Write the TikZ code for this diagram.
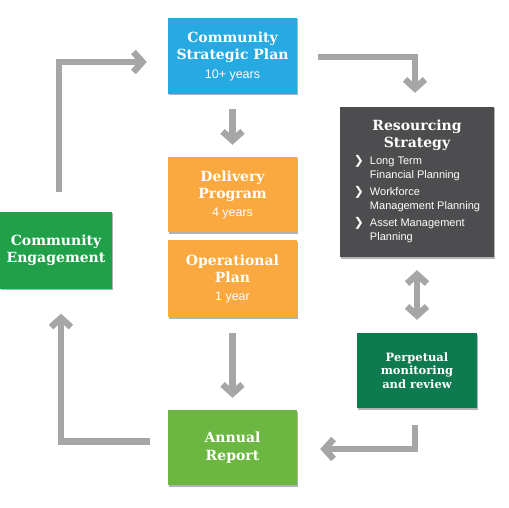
\documentclass[tikz,border=0pt]{standalone}
\usepackage{fontspec}
\setmainfont{Liberation Sans}
\newfontfamily\slabfont{DejaVu Serif}
\newfontfamily\simbolo{DejaVu Sans}
\usepackage{tikz}
\usetikzlibrary{shapes,arrows.meta,shadows,positioning}

\definecolor{blu}{HTML}{27A9E1}
\definecolor{ardesia}{HTML}{4D4D4F}
\definecolor{arancio}{HTML}{F9A93F}
\definecolor{verde}{HTML}{21A04A}
\definecolor{verdescuro}{HTML}{0E7A4F}
\definecolor{verdechiaro}{HTML}{6CB741}
\definecolor{grigio}{HTML}{A6A6A6}

\tikzstyle{blocco} = [rectangle, text=white, align=center, inner sep=0pt,
    minimum width=129pt, minimum height=76pt,
    font=\slabfont\bfseries\fontsize{14}{17.5}\selectfont,
    drop shadow={shadow xshift=1.2pt, shadow yshift=-1.5pt, opacity=0.3, fill=black}]
\tikzstyle{freccia} = [draw=grigio, line width=6.5pt,
    -{Straight Barb[length=9pt,width=20pt]}]
\newcommand{\anni}[1]{{\normalfont\fontsize{12.5}{14}\selectfont #1}}
\newcommand{\punto}{{\simbolo\bfseries\fontsize{12}{12}\selectfont ❯}}

\begin{document}
\begin{tikzpicture}[x=1pt, y=-1pt]
  \useasboundingbox (0,0) rectangle (509,508);

  \node [blocco, fill=blu] (strategico) at (232.5,56)
    {Community\\Strategic Plan\\[1pt]\anni{10+ years}};
  \node [blocco, fill=ardesia, minimum width=154pt, minimum height=150pt]
    (risorse) at (417,182)
    {Resourcing\\Strategy\\[3pt]
     {\normalfont\fontsize{11}{14}\selectfont
      \begin{tabular}{@{}l@{\hspace{6pt}}l@{}}
        \punto & Long Term\\
               & Financial Planning\\[3pt]
        \punto & Workforce\\
               & Management Planning\\[3pt]
        \punto & Asset Management\\
               & Planning
      \end{tabular}}};
  \node [blocco, fill=arancio, minimum height=75pt] (consegna) at (232.5,194.5)
    {Delivery\\Program\\[0pt]\anni{4 years}};
  \node [blocco, fill=arancio, minimum height=77pt, below=8pt of consegna] (operativo)
    {Operational\\Plan\\[0pt]\anni{1 year}};
  \node [blocco, fill=verde, minimum width=112pt, minimum height=77pt] (impegno) at (56,250)
    {Community\\Engagement};
  \node [blocco, fill=verdescuro, minimum width=120pt, minimum height=75pt,
    font=\slabfont\bfseries\fontsize{11.5}{13.5}\selectfont] (monitoraggio) at (417,370.5)
    {Perpetual\\monitoring\\and review};
  \node [blocco, fill=verdechiaro, minimum height=75pt] (annuale) at (232.5,447.5)
    {Annual\\Report};

  % il ciclo
  \draw [freccia, shorten <=19pt, shorten >=21pt]
    ([xshift=3pt]impegno.north) |- ([yshift=-6pt]strategico.west);
  \draw [freccia, shorten <=21pt, shorten >=14pt]
    ([yshift=-1pt]strategico.east) -| ([xshift=-2pt]risorse.north);
  \draw [freccia, shorten <=15pt, shorten >=12pt] (strategico.south) -- (consegna.north);
  \draw [freccia, {Straight Barb[length=9pt,width=20pt]}-{Straight Barb[length=9pt,width=20pt]},
    shorten <=13pt, shorten >=13pt] (risorse.south) -- (monitoraggio.north);
  \draw [freccia, shorten <=15pt, shorten >=12pt] (operativo.south) -- (annuale.north);
  \draw [freccia, shorten <=17pt, shorten >=23pt]
    ([xshift=-2pt]monitoraggio.south) |- ([yshift=-1.5pt]annuale.east);
  \draw [freccia, shorten <=18pt, shorten >=25pt]
    ([yshift=6pt]annuale.west) -| ([xshift=5pt]impegno.south);
\end{tikzpicture}
\end{document}
